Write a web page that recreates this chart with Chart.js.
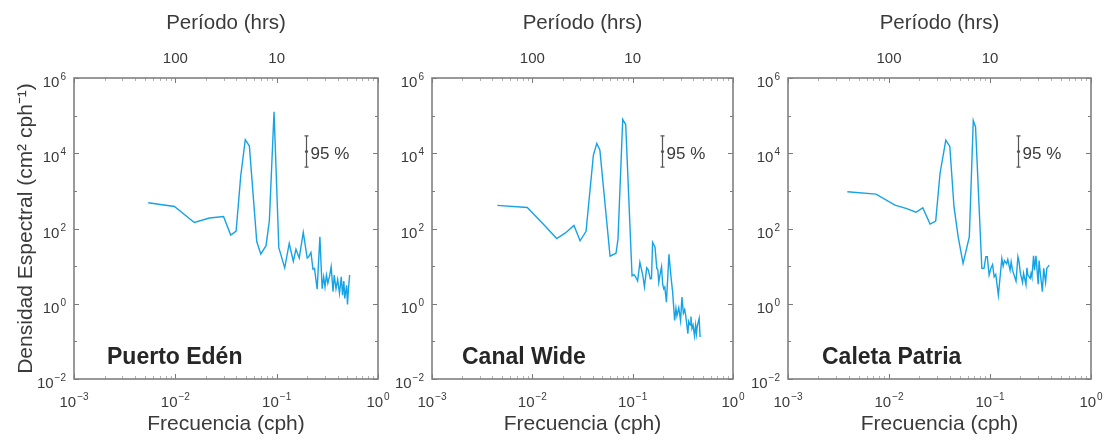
<!DOCTYPE html>
<html>
<head>
<meta charset="utf-8">
<script src="https://cdn.jsdelivr.net/npm/chart.js@4.4.1/dist/chart.umd.min.js"></script>
<style>
  html, body { margin: 0; padding: 0; background: #ffffff; width: 1111px; height: 440px; overflow: hidden; }
  canvas { position: absolute; top: 0; }
</style>
</head>
<body>
<canvas id="c1" width="400" height="440" style="left:0px"></canvas>
<canvas id="c2" width="370" height="440" style="left:385px"></canvas>
<canvas id="c3" width="370" height="440" style="left:741px"></canvas>
<script>
// ---------------- data ----------------
const stations = ['Puerto Edén', 'Canal Wide', 'Caleta Patria'];

const xTickValues = [0.001, 0.01, 0.1, 1];            // Frecuencia (cph)
const yTickValues = [0.01, 1, 100, 10000, 1000000];    // Densidad espectral
const periodTickFreqs = [0.01, 0.1];                  // top axis ticks -> 100 h, 10 h

const edenFreq = [0.0054, 0.0098, 0.0154, 0.0217, 0.0299, 0.0352, 0.0398, 0.0442, 0.049, 0.0538,
  0.0636, 0.0697, 0.0785, 0.0847, 0.0942, 0.105, 0.120, 0.133, 0.146, 0.155,
  0.167, 0.183, 0.200, 0.207, 0.218, 0.228, 0.236, 0.251, 0.267, 0.281,
  0.291, 0.300, 0.310, 0.320, 0.333, 0.345, 0.360, 0.370, 0.385, 0.400,
  0.417, 0.434, 0.447, 0.460, 0.470, 0.490, 0.500, 0.510, 0.525];
const edenPSD = [483, 385, 145, 190, 209, 67, 85, 2500, 23000, 15500,
  45, 21, 35, 160, 127000, 31, 9, 40, 13.5, 28,
  16.5, 79, 16.5, 17.8, 23, 8.3, 8.7, 2.45, 60, 2.5,
  5.2, 2.8, 5.8, 3.5, 5.5, 9.6, 2.1, 5.8, 2.5, 4.4,
  1.9, 5.2, 1.7, 4.0, 1.38, 3.1, 0.96, 2.3, 5.8];

const wideFreq = [0.00448, 0.0089, 0.0129, 0.0175, 0.0212, 0.026, 0.0299, 0.0343, 0.0406, 0.0439,
  0.0471, 0.0595, 0.0682, 0.0714, 0.0796, 0.0852, 0.0986, 0.103, 0.107, 0.112,
  0.118, 0.126, 0.131, 0.138, 0.143, 0.150, 0.154, 0.158, 0.167, 0.174,
  0.178, 0.182, 0.187, 0.194, 0.199, 0.204, 0.209, 0.217, 0.230, 0.241,
  0.250, 0.262, 0.270, 0.276, 0.288, 0.300, 0.310, 0.320, 0.330, 0.338,
  0.355, 0.362, 0.374, 0.381, 0.390, 0.400, 0.413, 0.424, 0.432, 0.440,
  0.460, 0.470];
const widePSD = [411, 363, 130, 54, 75, 120, 47, 84, 8900, 18200,
  12200, 18.5, 22, 52, 79000, 58000, 5.5, 5.9, 5.2, 4.0,
  12.6, 5.8, 2.8, 9.0, 8.0, 4.6, 4.7, 43, 32, 8.7,
  8.0, 3.7, 5.8, 9.6, 3.3, 2.5, 2.8, 1.1, 20.5, 5.2,
  2.1, 0.36, 0.75, 0.48, 0.78, 0.36, 1.5, 0.56, 0.7, 0.48,
  0.16, 0.34, 0.27, 0.46, 0.22, 0.27, 0.14, 0.27, 0.16, 0.25,
  0.41, 0.13];

const patriaFreq = [0.00387, 0.00744, 0.01146, 0.0150, 0.0185, 0.0216, 0.0255, 0.0290, 0.0320, 0.0365,
  0.0400, 0.0440, 0.0484, 0.0541, 0.0624, 0.0683, 0.0719, 0.0830, 0.0872, 0.0910,
  0.0940, 0.0980, 0.102, 0.106, 0.110, 0.114, 0.121, 0.131, 0.135, 0.139,
  0.146, 0.150, 0.158, 0.162, 0.167, 0.181, 0.189, 0.194, 0.200, 0.210,
  0.215, 0.227, 0.232, 0.237, 0.250, 0.255, 0.260, 0.270, 0.276, 0.285,
  0.300, 0.306, 0.315, 0.330, 0.340, 0.355, 0.365, 0.385];
const patriaPSD = [950, 820, 417, 339, 270, 355, 131, 158, 2900, 22400,
  15200, 380, 60, 11.8, 60, 74000, 50000, 8.7, 8.7, 17.8,
  17.8, 5.8, 8.7, 11, 5.2, 6.0, 1.7, 16, 10, 14,
  11.6, 15, 7.8, 13, 7.8, 4.0, 17.8, 13, 6.4, 3.7,
  6.4, 3.2, 9.0, 5.8, 4.7, 6.4, 5.2, 18.7, 7.8, 18.7,
  3.3, 14, 6.4, 2.1, 8.7, 3.7, 8.7, 10.6];

// 95 % confidence bar (frequency, lower and upper spectral level)
const ciFreq = [0.195, 0.198, 0.19];
const ciLow = [4300, 4300, 4300];
const ciHigh = [28800, 28800, 28800];

// ---------------- styling ----------------
const FONT = "'Liberation Sans', Arial, Helvetica, sans-serif";
Chart.defaults.font.family = FONT;
const TXT = '#3a3a3a';
const LINE = '#16a3e6';

function expOf(v) { return String(Math.round(Math.log10(v))).replace('-', '\u2212'); }

// draws "10" with a raised exponent, right edge or centre anchored
function drawPow(ctx, v, x, baseline, align) {
  const e = expOf(v);
  ctx.font = '15px ' + FONT;
  const wb = ctx.measureText('10').width;
  ctx.font = '10px ' + FONT;
  const we = ctx.measureText(e).width;
  const total = wb + 1 + we;
  let left = align === 'center' ? x - total / 2 : x - total;
  ctx.textAlign = 'left';
  ctx.textBaseline = 'alphabetic';
  ctx.font = '15px ' + FONT;
  ctx.fillText('10', left, baseline);
  ctx.font = '10px ' + FONT;
  ctx.fillText(e, left + wb + 1, baseline - 7);
}

const decoPlugin = {
  id: 'deco',
  afterDatasetsDraw(chart, args, o) {
    const { ctx, chartArea: a, scales: { x, y } } = chart;
    ctx.save();
    // inward tick marks
    ctx.strokeStyle = '#7a7a7a';
    ctx.lineWidth = 1;
    for (let e = -3; e <= 0; e++) {
      const px = Math.round(x.getPixelForValue(Math.pow(10, e))) + 0.5;
      ctx.beginPath();
      ctx.moveTo(px, a.bottom); ctx.lineTo(px, a.bottom - 5);
      ctx.moveTo(px, a.top); ctx.lineTo(px, a.top + 5);
      ctx.stroke();
      if (e < 0) {
        ctx.strokeStyle = '#b0b0b0';
        for (let k = 2; k <= 9; k++) {
          const mx = Math.round(x.getPixelForValue(k * Math.pow(10, e))) + 0.5;
          ctx.beginPath();
          ctx.moveTo(mx, a.bottom); ctx.lineTo(mx, a.bottom - 3);
          ctx.moveTo(mx, a.top); ctx.lineTo(mx, a.top + 3);
          ctx.stroke();
        }
        ctx.strokeStyle = '#7a7a7a';
      }
    }
    for (let e = -2; e <= 6; e++) {
      const py = Math.round(y.getPixelForValue(Math.pow(10, e))) + 0.5;
      const len = (e % 2 === 0) ? 5 : 3;
      ctx.beginPath();
      ctx.moveTo(a.left, py); ctx.lineTo(a.left + len, py);
      ctx.moveTo(a.right, py); ctx.lineTo(a.right - len, py);
      ctx.stroke();
    }
    // frame
    ctx.strokeStyle = '#808080';
    ctx.lineWidth = 1.6;
    ctx.strokeRect(a.left, a.top, a.right - a.left, a.bottom - a.top);

    // power-of-ten tick labels, placed with the library's scales
    ctx.fillStyle = TXT;
    x.ticks.forEach(t => drawPow(ctx, t.value, x.getPixelForValue(t.value), a.bottom + 28, 'center'));
    y.ticks.forEach(t => drawPow(ctx, t.value, a.left - 8, y.getPixelForValue(t.value) + 9, 'right'));

    // 95 % bar
    const bx = Math.round(x.getPixelForValue(o.ciFreq)) + 0.5;
    const bt = y.getPixelForValue(o.ciHigh);
    const bb = y.getPixelForValue(o.ciLow);
    ctx.strokeStyle = '#555';
    ctx.lineWidth = 1.2;
    ctx.beginPath();
    ctx.moveTo(bx, bt); ctx.lineTo(bx, bb);
    ctx.moveTo(bx - 2, bt); ctx.lineTo(bx + 2, bt);
    ctx.moveTo(bx - 2, bb); ctx.lineTo(bx + 2, bb);
    ctx.stroke();
    ctx.fillStyle = '#555';
    ctx.beginPath();
    ctx.arc(bx, (bt + bb) / 2, 1.6, 0, Math.PI * 2);
    ctx.fill();
    ctx.fillStyle = TXT;
    ctx.font = '17px ' + FONT;
    ctx.textAlign = 'left';
    ctx.textBaseline = 'middle';
    ctx.fillText('95 %', bx + 4, (bt + bb) / 2 + 3);

    // station name
    ctx.fillStyle = '#262626';
    ctx.font = 'bold 23px ' + FONT;
    ctx.textBaseline = 'alphabetic';
    ctx.fillText(o.station, a.left + o.labelDx, a.bottom - 15);
    ctx.restore();
  }
};

function makeChart(id, idx, freq, psd, showYTitle, yWidth, padRight, labelDx) {
  const pts = freq.map((f, i) => ({ x: f, y: psd[i] }));
  return new Chart(document.getElementById(id), {
    type: 'line',
    data: {
      datasets: [{
        data: pts,
        borderColor: LINE,
        borderWidth: 1.4,
        pointRadius: 0,
        tension: 0,
        fill: false
      }]
    },
    options: {
      responsive: false,
      animation: false,
      layout: { padding: { left: 0, right: padRight, top: 0, bottom: 0 } },
      plugins: {
        legend: { display: false },
        tooltip: { enabled: false },
        deco: { station: stations[idx], ciFreq: ciFreq[idx], ciLow: ciLow[idx], ciHigh: ciHigh[idx], labelDx: labelDx }
      },
      scales: {
        x: {
          type: 'logarithmic', position: 'bottom', min: 0.001, max: 1,
          afterBuildTicks: s => { s.ticks = xTickValues.map(v => ({ value: v })); },
          afterFit: s => { s.height = 61; },
          grid: { display: false, drawTicks: false },
          border: { display: false },
          ticks: { display: false },
          title: { display: true, text: 'Frecuencia (cph)', color: TXT, font: { size: 21 }, padding: { top: 0, bottom: 3 } }
        },
        x2: {
          type: 'logarithmic', position: 'top', min: 0.001, max: 1,
          afterBuildTicks: s => { s.ticks = periodTickFreqs.map(v => ({ value: v })); },
          afterFit: s => { s.height = 78; },
          grid: { display: false, drawTicks: false },
          border: { display: false },
          ticks: { callback: v => String(Math.round(1 / v)), color: TXT, font: { size: 15 }, padding: 10, maxRotation: 0, autoSkip: false },
          title: { display: true, text: 'Período (hrs)', color: TXT, font: { size: 20.5 }, padding: { top: 11, bottom: 0 } }
        },
        y: {
          type: 'logarithmic', position: 'left', min: 0.01, max: 1000000,
          afterBuildTicks: s => { s.ticks = yTickValues.map(v => ({ value: v })); },
          afterFit: s => { s.width = yWidth; },
          grid: { display: false, drawTicks: false },
          border: { display: false },
          ticks: { display: false },
          title: { display: showYTitle, text: 'Densidad Espectral (cm\u00B2 cph\u207B\u00B9)', color: TXT, font: { size: 21 }, padding: { top: 14, bottom: 0 } }
        }
      }
    },
    plugins: [decoPlugin]
  });
}

makeChart('c1', 0, edenFreq, edenPSD, true, 74, 22, 33);
makeChart('c2', 1, wideFreq, widePSD, false, 47, 22, 30);
makeChart('c3', 2, patriaFreq, patriaPSD, false, 47, 20, 34);
</script>
</body>
</html>
